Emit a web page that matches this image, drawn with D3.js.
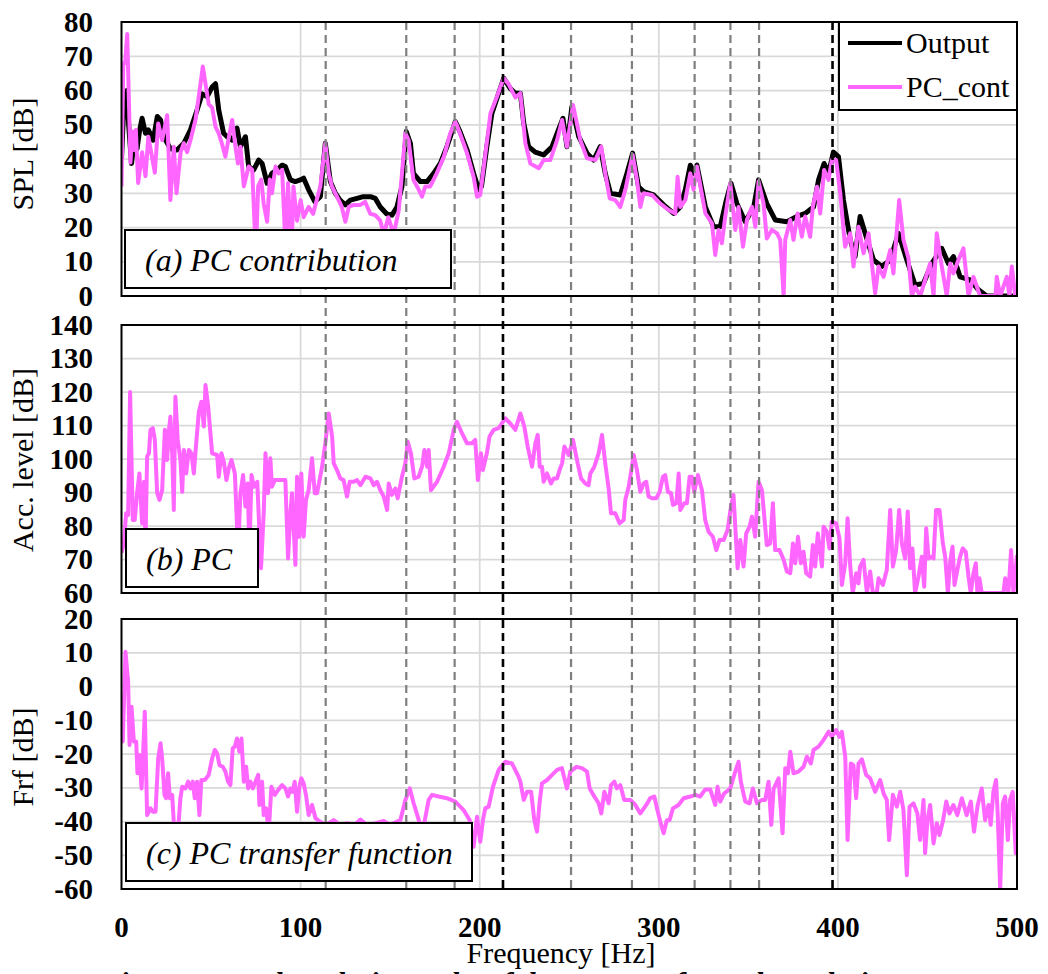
<!DOCTYPE html>
<html>
<head>
<meta charset="utf-8">
<script src="https://cdn.jsdelivr.net/npm/d3@7"></script>
<style>
  body { margin: 0; background: #fff; }
  svg { display: block; }
</style>
</head>
<body>
<svg id="chart" width="1048" height="974"></svg>
<script>
// ---- data ----
const freqTicks = [0, 100, 200, 300, 400, 500];
const modeFreqs = [114, 159, 186, 213, 251, 285, 320, 340, 356, 397];
const majorModes = [213, 397];

// (a) SPL, measured output [Hz, dB]
const splOutput = [[0,40],[1.5,58],[3,60],[4,50],[5.6,38.7],[7,45],[8.7,43],[10,48],[11.5,51.9],[13.4,47.5],[15,48.5],[17.7,45.5],[20,52.4],[21.8,51.4],[23.6,46.5],[27.3,43],[31,42.6],[34.8,44.6],[38.5,48.5],[42.2,54.3],[45,59],[47.8,58.2],[50.6,61],[52.5,62],[54.3,54.3],[57,47.5],[59,46.5],[61.8,45.5],[64.5,49],[66.4,43.6],[69.2,46.5],[71,37.8],[73.8,36.8],[76.6,39.7],[78.5,38.7],[81.3,32.9],[84,35.8],[86.9,36.8],[89.7,38.2],[91.5,37.8],[94.3,33.9],[97,33.4],[99.9,33.9],[101.7,34.4],[104.5,31],[108,27.5],[111,29],[113.8,44.6],[116.6,33.4],[119.4,30],[122,28],[125,26.6],[127.8,28],[131.5,28.5],[135,29],[139,29],[141.7,28.5],[144.5,26],[148,24],[151,23.6],[153.8,26],[156.6,32],[159,48],[161.3,44.6],[163,35.8],[166.9,33.4],[170.6,33.4],[174.3,35.8],[178,38.7],[181.7,43.6],[186.4,50.9],[189,48],[193,42.6],[196.6,35.8],[199.4,31],[201,32],[204,43.6],[206.8,53.3],[213.4,63.6],[217,60.6],[219.9,59.2],[222.7,59.2],[224.6,50.4],[227.3,43.6],[231,42],[235.7,41.2],[240.4,43.6],[243.2,47.5],[246.5,51.9],[248.7,43.6],[251.5,55.3],[255.3,46.5],[259.9,41.7],[263.6,39.7],[267.3,43.6],[270.1,35.8],[273,30],[278.5,29.5],[282.2,35.8],[285.4,41.7],[288.7,31.9],[291.5,30.5],[297.1,29.5],[302.7,26.6],[308.3,24.1],[312,26],[314.8,31],[317.6,38.2],[319.4,35.8],[321.3,38.2],[326,26],[330.6,20.2],[334.3,20.2],[337.7,28],[340.3,32.9],[343.6,27],[348.3,21.7],[353,26],[355.7,33.9],[360.3,27],[365,22.2],[371.5,21.7],[377.1,23.2],[381.7,24.1],[386.4,26],[389.2,33.9],[392.3,38.7],[394.8,35.8],[397.5,42],[400.3,40.7],[403.1,28],[406.9,16.4],[409.6,11.5],[412.4,23.2],[415.2,18.3],[419.9,10.5],[424.5,8.6],[429.2,10.5],[433.8,18.3],[438.5,10.5],[443.1,3.2],[447.8,3.7],[452.4,9.5],[458,13.9],[461.7,9.5],[464.5,11.5],[468.2,5.6],[473.8,4.7],[478.5,1.8],[483.1,0],[500,0]];

// (a) SPL, PC contribution [Hz, dB]
const splPcCont = [[0,32],[1,68],[2,68],[3.2,76.5],[5,39],[6,48],[7,42.6],[8,48.5],[9.3,33],[11.5,42],[13.4,35],[15,46.5],[16.7,41.6],[18.6,36],[20.5,50.4],[22.7,45.5],[25.5,52.8],[27.3,28],[29.2,43.6],[30.7,30],[33,42],[34.8,44.6],[36.6,42],[38.5,45.5],[41.3,51.4],[43,57.7],[45.4,67],[47.2,61],[48.7,56],[50.6,55],[52.5,49.4],[54.3,47.5],[56,44.6],[58,40.7],[60,46.5],[61.8,51.4],[63.6,43.6],[65,38.7],[66.4,43.6],[68.3,32],[69.6,34.8],[71,37.8],[73,36.8],[75,12],[76.3,32],[78,34],[79.4,27],[81.3,21.7],[82.8,34],[84,30],[86,37.8],[87.8,35.8],[89.7,36.8],[91.5,15],[93,33],[94.9,12],[96,32],[98,22],[100,28],[101.7,23],[104.5,26],[107,24],[109,28],[111,32],[113.8,44.6],[115.7,35.8],[117.5,32],[120.3,29],[123,26],[125,21.7],[126.9,26],[129.6,26.6],[133.4,26.6],[136,27.5],[138.9,24],[141.7,23.6],[144.5,22],[146.4,18],[149,23],[152,18],[154.8,25],[156.6,35.8],[158.5,47.5],[160.3,45.5],[163,33.9],[166,31],[167.8,29],[169.6,32],[172.4,32],[176,35.8],[180,40.7],[183.6,47.5],[186.4,50.9],[189,47.5],[193,41.6],[196.6,34.8],[198.5,29],[200.3,29.5],[203,40.7],[206,53.3],[209.6,58.2],[213.4,63.6],[216,62],[219.9,58],[222.7,59.2],[225.5,44.6],[228.3,38.7],[233,37.3],[235.7,39.7],[239.4,39.7],[243.2,45.5],[246,51.4],[248.7,43.6],[252.1,55.8],[256.2,45.5],[259.9,40.2],[264.6,39.7],[267.9,43.6],[270.1,35.8],[272.6,28.5],[275.7,28],[278.5,26],[281.3,31],[285.4,41.2],[287.8,33.9],[289.7,26],[291.5,30],[296.2,29.5],[300.8,27],[305.5,25.1],[309.2,24.1],[310.5,34.8],[312,26],[314.8,28],[317.6,35.8],[319.4,31],[321.3,37.8],[326,24.1],[329.7,21.2],[331.5,12],[333.4,19.3],[335.2,15.4],[337.1,23.2],[339.9,32.9],[342.7,19.3],[344.5,26],[347,14.4],[349.2,22.2],[352,26],[353.9,20.2],[355.7,33.4],[358.5,27],[360.3,16.8],[363.1,19.3],[366,18.3],[367.8,16.4],[369.7,0],[370.6,16.4],[373.4,22.2],[375.2,16.4],[377.5,24.1],[379.9,17.3],[381.7,23.2],[384.5,17.3],[386,26],[388.3,31.9],[390.1,24.1],[392.3,36.8],[394.8,33.9],[396.6,39.7],[399,39.7],[401.3,30],[404,14.4],[406.9,18.3],[408.7,8.6],[411.5,20.2],[414.3,12.5],[417.1,18.3],[420.8,0.8],[422.7,8.6],[425.5,5.6],[429.2,13.4],[431,6.6],[434.2,28],[436.6,16.4],[439.4,11],[441.3,0],[443.1,2.7],[446,0],[448.7,4.7],[451.5,9.5],[453.4,0],[455.2,18.3],[458,8.6],[460.8,0],[462.7,9.5],[464.5,6.6],[467.3,10.5],[470.1,13.9],[472.9,0],[475.7,5.6],[479.4,0],[488,0],[488.7,5.6],[490.6,0],[494.3,5.6],[495.8,0],[497.1,8.6],[499,0],[500,0.8]];

// (b) PC acceleration level [Hz, dB]
const pcAccel = [[0,72],[1.3,74.8],[2.6,83.8],[3.7,83.3],[4.8,120],[6.3,81.8],[7.4,81.8],[8.7,89.8],[10,95.7],[11.5,80.8],[12.6,93.2],[13.4,75],[14.3,100.7],[15.3,101.7],[16.2,108.7],[17.5,109.2],[18.6,105.7],[19.9,89.8],[21.2,87.8],[22.7,90.7],[24.2,108.7],[25.5,99.7],[26.4,108.2],[27.3,112.6],[28.3,101.7],[29.2,84.8],[30.1,118.6],[31.4,105.7],[32.9,99.7],[33.9,90.2],[34.8,102.7],[36.1,95.7],[37.6,102.7],[39,101.7],[40.4,95.7],[41.7,104.7],[43.2,114.1],[44.6,117.1],[46,109.7],[46.9,122.1],[48.4,115.6],[50.6,101.7],[53.4,101.2],[54.3,94.7],[55.8,101.7],[57.1,99.2],[58.6,93.7],[59.9,97.2],[61.4,99.7],[63.3,95.7],[65.1,72],[66.4,89.8],[67.9,95.2],[69.2,85.8],[70.5,92.7],[71.4,72],[72.6,95.2],[73.9,91.7],[75.8,93.2],[77.9,67.4],[79.4,83.8],[80.4,101.7],[81.8,89.8],[83.1,100.2],[84,91.7],[85.6,93.7],[87.4,93.7],[89.7,93.7],[91.5,93.7],[93,70.3],[94.3,83.8],[95.2,89.8],[97.1,68.4],[98,94.7],[99.3,76.8],[100.4,95.7],[101.7,76.8],[103,87.8],[104.5,90.7],[106.4,100.2],[107.9,89.8],[109.2,89.8],[112,97.7],[113.8,104.7],[115.7,113.6],[117.6,106.7],[118.5,98.7],[120.3,96.7],[122.2,94.2],[124,93.7],[125.9,88.8],[127.4,93.2],[129.7,93.2],[131.5,93.7],[133.4,92.2],[136.2,94.7],[139,94.2],[140.8,92.2],[142.7,93.2],[144.5,90.7],[146.4,88.8],[148.3,84.8],[149.2,92.7],[151,89.3],[152.9,91.2],[154.2,88.3],[156.6,94.7],[158.5,98.7],[159.8,105.2],[161.6,101.7],[163.5,94.2],[165.9,94.7],[167.8,97.7],[169.1,102.7],[170.6,97.7],[171.5,102.7],[172.8,90.7],[176.2,93.2],[179.9,97.7],[182.7,101.7],[185.5,108.7],[187.3,111.1],[190.1,107.7],[192.9,104.7],[195.7,104.7],[197.5,105.7],[199,93.7],[200.7,101.7],[201.8,96.7],[204,101.7],[205.5,106.7],[207.8,108.7],[210.6,109.2],[214.3,112.1],[217.1,110.6],[219.9,108.7],[222.7,113.6],[224.9,109.7],[226.8,103.7],[229.2,97.7],[231.1,104.7],[232.4,107.2],[233.5,97.7],[234.8,97.7],[235.7,93.2],[237.6,95.7],[239.8,92.7],[241.3,94.2],[243.2,94.2],[244.6,96.7],[246,98.7],[247.3,103.7],[249.7,101.2],[252.1,105.7],[254.7,98.7],[256.6,94.2],[259,92.7],[260.8,92.2],[261.8,95.7],[264,97.7],[266.4,101.7],[268.3,107.2],[270.1,98.7],[272,91.2],[273.3,83.8],[275.7,83.8],[278.1,80.8],[280.4,81.8],[281.3,87.8],[283.2,91.7],[286,101.2],[287.8,96.7],[289.7,90.2],[291.5,92.7],[293,93.2],[294.3,88.8],[296.2,88.3],[298.6,88.3],[300.5,90.2],[302.3,94.7],[303.6,95.2],[305.1,90.2],[306.8,89.8],[307.9,86.3],[309.8,86.8],[311.1,95.7],[312,84.8],[314.2,86.8],[315.7,86.8],[317.2,94.7],[318.5,94.7],[319.8,90.2],[321.8,95.2],[324.1,90.7],[325.9,81.8],[327.8,78.3],[330.2,76.8],[332.1,72.8],[333.9,75.8],[336.2,75.8],[338.4,78.8],[340.3,85.8],[341.7,89.3],[344,67.4],[345.5,75.8],[347.3,67.9],[348.8,77.8],[350.7,79.8],[352,82.8],[353.8,76.8],[355.7,93.2],[357.6,90.7],[360.3,74.3],[362.2,74.8],[363.7,86.8],[365,72.8],[367.4,72.8],[369.7,69.9],[371.5,66.4],[373.4,65.9],[374.9,74.8],[376.2,68.9],[377.7,76.8],[379.3,68.9],[380.8,72.3],[382.3,65.9],[384.5,64.9],[386,74.3],[387.3,67.9],[388.8,77.8],[391.1,67.9],[392,79.8],[393.8,78.3],[395.3,73.3],[396.6,81.3],[399,80.8],[400.9,76.3],[402.2,62.4],[404.1,68.9],[405.4,82.3],[406.9,67.9],[408.3,60],[410.2,65.9],[411.5,62.9],[412.4,67.9],[414.3,69.9],[416.2,60],[418,66.4],[419.5,60],[421.7,60],[422.7,64.4],[425.1,62.4],[427.3,66.9],[429.2,84.8],[430.7,67.9],[432.5,72.8],[434.2,84.8],[435.7,74.8],[437.5,70.3],[439,84.3],[440.3,67.4],[441.6,73.3],[443.1,60],[445,64.9],[446.8,70.8],[448.2,61.9],[449.3,79.3],[450.6,70.3],[452.1,70.8],[453.4,70.3],[454.8,84.8],[456.7,84.8],[458.6,74.8],[459.9,70.8],[461.4,60],[462.7,69.4],[464,73.8],[465.1,62.4],[466.7,66.9],[468.2,70.8],[469.7,73.3],[471.4,72.3],[472.9,64.9],[474.2,60],[475.7,65.9],[477,68.9],[477.9,60],[479,64.4],[480.3,60],[492.4,60],[493.4,64.4],[495.2,60],[496.7,72.8],[498,60],[500,71.3]];

// (c) PC transfer function [Hz, dB]
const pcFrf = [[0,-14],[0.7,-16.3],[2.2,10.3],[3.7,1.4],[4.5,-17.3],[5.6,-6],[6.9,-16.3],[8.2,-16.3],[8.9,-25.7],[10,-20.3],[11.2,-30.2],[11.9,-22.3],[13,-7.5],[14.3,-38.1],[16.2,-36.1],[17.5,-37.1],[19,-37.1],[20.5,-21.3],[21.8,-16.8],[22.7,-21.3],[24,-32.1],[24.9,-33.1],[26,-25.7],[27,-33.1],[28.3,-32.1],[29.6,-44],[31.4,-44],[32.9,-33.1],[33.9,-29.7],[35.7,-30.2],[37.2,-28.2],[38.5,-30.2],[39.8,-28.2],[40.9,-33.1],[42.2,-28.2],[43.5,-38.1],[44.6,-27.7],[46.5,-27.7],[48.7,-26.2],[50.6,-21.3],[52.1,-18.8],[53.4,-19.8],[54.7,-23.3],[56.6,-23.8],[58,-25.2],[59.5,-28.2],[60.8,-29.2],[62.1,-18.3],[63.3,-17.8],[64.5,-15.4],[65.8,-19.3],[67,-15.4],[68.3,-28.2],[69.6,-23.8],[70.7,-30.2],[72,-28.2],[73.3,-30.2],[74.8,-28.2],[76.3,-26.2],[77,-35.1],[78.5,-28.2],[79.4,-38.1],[80.7,-36.1],[82.2,-43],[83.7,-29.7],[85.6,-32.1],[87.4,-30.7],[89.7,-29.2],[91.5,-30.2],[93,-32.6],[94.3,-30.2],[95.6,-31.2],[96.7,-28.2],[98,-37.1],[99.3,-29.7],[100.4,-27.2],[101.7,-28.7],[103,-32.1],[104.5,-38.1],[106.4,-35.1],[108.3,-39],[110.7,-40],[114,-41],[118.5,-39.6],[122,-41],[126,-40.5],[130,-41],[133.4,-39.4],[137,-41],[142,-40.5],[146.4,-39.8],[150,-41],[155.7,-39.6],[158.5,-33.6],[161,-30.2],[163.1,-34.6],[166,-39.6],[167.8,-44],[171.5,-33.6],[173.4,-32.1],[177.1,-32.6],[181.7,-33.1],[186.4,-34.1],[191,-36.6],[194.4,-39.6],[196.6,-47.5],[198.5,-38.6],[200.3,-46],[201.8,-39.6],[203.1,-36.1],[205,-35.6],[207.4,-29.7],[210.6,-24.7],[214.3,-22.3],[218,-22.8],[221.7,-26.7],[222.7,-28.2],[224.6,-33.6],[226.4,-31.2],[228.7,-31.2],[230.5,-39.6],[232,-43],[233.5,-34.1],[234.8,-28.7],[237.6,-27.7],[240.4,-26.2],[243.2,-24.7],[245.9,-24.2],[248.7,-30.2],[250.6,-25.2],[254,-23.8],[257.1,-24.2],[259.9,-25.2],[261.4,-30.2],[264,-32.6],[266.4,-34.6],[267.9,-37.6],[269.6,-31.2],[272,-34.6],[273.3,-29.2],[275.2,-28.2],[276.6,-30.2],[278.5,-29.2],[280.7,-33.6],[284.1,-33.6],[286.9,-35.1],[289.7,-37.6],[293,-35.1],[295.2,-33.1],[297.5,-32.6],[299,-36.1],[300.8,-40],[302.7,-43.5],[304.5,-39.6],[306,-39.6],[307.9,-36.1],[311,-35.1],[313.9,-33.1],[317.6,-32.6],[320.4,-32.1],[323.1,-32.6],[326,-30.5],[328.7,-30.5],[331.5,-35.1],[332.8,-29.7],[334.3,-34.1],[336.5,-31.7],[339.9,-30.2],[342.7,-25.2],[344.5,-22.3],[345.8,-28.2],[348.3,-34.1],[350.7,-34.6],[352.5,-30.2],[354.8,-34.6],[357.6,-33.6],[359.4,-33.6],[361.3,-28.2],[362.8,-41],[364.1,-30.3],[366.9,-27.2],[369.1,-43.5],[370.6,-24.2],[372.1,-25.7],[373.4,-19.3],[375.2,-25.7],[378,-25.2],[380.8,-23.8],[382.7,-20.8],[384.9,-22.8],[386.4,-18.8],[389.2,-17.8],[392,-15.8],[394.8,-13.4],[396.6,-14.9],[399,-12.9],[400.9,-14.9],[402.2,-13.4],[404.1,-20.8],[405.4,-45.5],[407.2,-22.8],[408.7,-23.3],[410.2,-33.1],[411.5,-22.8],[413.4,-21.6],[415.8,-26.2],[418,-27.2],[420.8,-31.2],[423.6,-27.7],[425.5,-31.7],[427.3,-33.6],[428.6,-45.5],[430.7,-32.1],[432.9,-35.6],[434.8,-31.2],[436.6,-36.6],[438.5,-55.9],[440,-35.6],[442.2,-34.6],[444.4,-37.6],[445.9,-45.5],[447.8,-33.6],[448.7,-49.4],[450,-39.6],[451.5,-35.1],[453.4,-46.5],[455.2,-40.5],[456.7,-44],[458.6,-40],[460.5,-34.1],[462.3,-37.6],[464.5,-35.1],[466.7,-38.1],[469.2,-33.1],[471.9,-38.1],[474.2,-34.1],[476,-43],[477.9,-35.6],[480.3,-30.2],[482.2,-39.6],[484.1,-35.1],[485.3,-41],[486.8,-31.2],[488.3,-27.7],[489.3,-38.6],[490.6,-60],[492.1,-34.6],[493.4,-32.6],[494.9,-45.5],[496.1,-33.6],[497.6,-31.2],[499.3,-49.4],[500,-40]];

const panelTicksA = d3.range(0, 81, 10);
const panelTicksB = d3.range(60, 141, 10);
const panelTicksC = d3.range(-60, 21, 10);

// ---- layout ----
const PINK = "#ff66ff";
const FONT = "Liberation Serif, Times New Roman, Times, DejaVu Serif, serif";
const left = 121.5, right = 1017;

const svg = d3.select("#chart");
const x = d3.scaleLinear().domain([0, 500]).range([left, right]);

const panels = [
    { id: "a", top: 22, bottom: 296, domain: [0, 80], ticks: panelTicksA,
      title: "SPL [dB]", titleY: 154,
      label: "(a) PC contribution", box: [125, 230, 326, 58],
      series: [{ data: splOutput, color: "#000", width: 5 }, { data: splPcCont, color: PINK, width: 4 }] },
    { id: "b", top: 325, bottom: 593, domain: [60, 140], ticks: panelTicksB,
      title: "Acc. level [dB]", titleY: 460,
      label: "(b) PC", box: [126, 529, 132, 58],
      series: [{ data: pcAccel, color: PINK, width: 4 }] },
    { id: "c", top: 619, bottom: 889, domain: [-60, 20], ticks: panelTicksC,
      title: "Frf [dB]", titleY: 757,
      label: "(c) PC transfer function", box: [126, 823, 346, 58],
      series: [{ data: pcFrf, color: PINK, width: 4 }] }
];

panels.forEach(p => {
    const y = d3.scaleLinear().domain(p.domain).range([p.bottom, p.top]);
    const g = svg.append("g");

    g.append("clipPath").attr("id", "clip-" + p.id)
        .append("rect")
        .attr("x", left).attr("y", p.top)
        .attr("width", right - left).attr("height", p.bottom - p.top);

    // grid
    g.selectAll(".hgrid").data(p.ticks.slice(1, -1)).enter().append("line")
        .attr("x1", left).attr("x2", right)
        .attr("y1", d => y(d)).attr("y2", d => y(d))
        .attr("stroke", "#d9d9d9").attr("stroke-width", 1.75);
    g.selectAll(".vgrid").data(freqTicks.slice(1, -1)).enter().append("line")
        .attr("x1", d => x(d)).attr("x2", d => x(d))
        .attr("y1", p.top).attr("y2", p.bottom)
        .attr("stroke", "#d9d9d9").attr("stroke-width", 1.75);

    // y tick labels
    g.selectAll(".ytick").data(p.ticks).enter().append("text")
        .attr("x", 93).attr("y", d => y(d))
        .attr("dy", "0.33em")
        .attr("text-anchor", "end")
        .attr("font-family", FONT).attr("font-weight", "bold").attr("font-size", 29)
        .text(d => d);

    // y title
    g.append("text")
        .attr("transform", `translate(33,${p.titleY}) rotate(-90)`)
        .attr("text-anchor", "middle")
        .attr("font-family", FONT).attr("font-size", 30)
        .text(p.title);

    // lines
    const line = d3.line().x(d => x(d[0])).y(d => y(d[1]));
    p.series.forEach(s => {
        g.append("path").datum(s.data)
            .attr("clip-path", `url(#clip-${p.id})`)
            .attr("d", line)
            .attr("fill", "none")
            .attr("stroke", s.color)
            .attr("stroke-width", s.width)
            .attr("stroke-linejoin", "round");
    });
});

// mode lines across all panels
svg.selectAll(".mode").data(modeFreqs).enter().append("line")
    .attr("x1", d => x(d)).attr("x2", d => x(d))
    .attr("y1", 22).attr("y2", 890)
    .attr("stroke", d => majorModes.includes(d) ? "#000" : "#7f7f7f")
    .attr("stroke-width", d => majorModes.includes(d) ? 2.6 : 2.2)
    .attr("stroke-dasharray", "8,5");

// label boxes + frames
panels.forEach(p => {
    const [bx, by, bw, bh] = p.box;
    svg.append("rect")
        .attr("x", bx).attr("y", by).attr("width", bw).attr("height", bh)
        .attr("fill", "#fff").attr("stroke", "#000").attr("stroke-width", 2);
    svg.append("text")
        .attr("x", bx + 20).attr("y", by + 41)
        .attr("font-family", FONT).attr("font-style", "italic").attr("font-size", 32)
        .text(p.label);
    svg.append("rect")
        .attr("x", left).attr("y", p.top)
        .attr("width", right - left).attr("height", p.bottom - p.top)
        .attr("fill", "none").attr("stroke", "#000").attr("stroke-width", 2);
});

// legend
const legend = svg.append("g");
legend.append("rect")
    .attr("x", 839).attr("y", 22).attr("width", 178).attr("height", 88)
    .attr("fill", "#fff").attr("stroke", "#000").attr("stroke-width", 2);
[{ name: "Output", color: "#000", y: 43 }, { name: "PC_cont", color: PINK, y: 87 }].forEach(d => {
    legend.append("line")
        .attr("x1", 848).attr("x2", 902).attr("y1", d.y).attr("y2", d.y)
        .attr("stroke", d.color).attr("stroke-width", 4);
    legend.append("text")
        .attr("x", 906).attr("y", d.y + 10)
        .attr("font-family", FONT).attr("font-size", 30)
        .text(d.name);
});

// x axis labels
svg.selectAll(".xtick").data(freqTicks).enter().append("text")
    .attr("x", d => x(d)).attr("y", 937)
    .attr("text-anchor", "middle")
    .attr("font-family", FONT).attr("font-weight", "bold").attr("font-size", 29)
    .text(d => d);

svg.append("text")
    .attr("x", 561).attr("y", 963)
    .attr("text-anchor", "middle")
    .attr("font-family", FONT).attr("font-size", 30)
    .text("Frequency [Hz]");

// caption (cut off by page edge)
svg.append("text")
    .attr("x", 100).attr("y", 993)
    .attr("font-family", FONT).attr("font-style", "italic").attr("font-weight", "bold").attr("font-size", 30)
    .text("Fig. 5 Spectral analysis results of the PC transfer path analysis");
</script>
</body>
</html>
